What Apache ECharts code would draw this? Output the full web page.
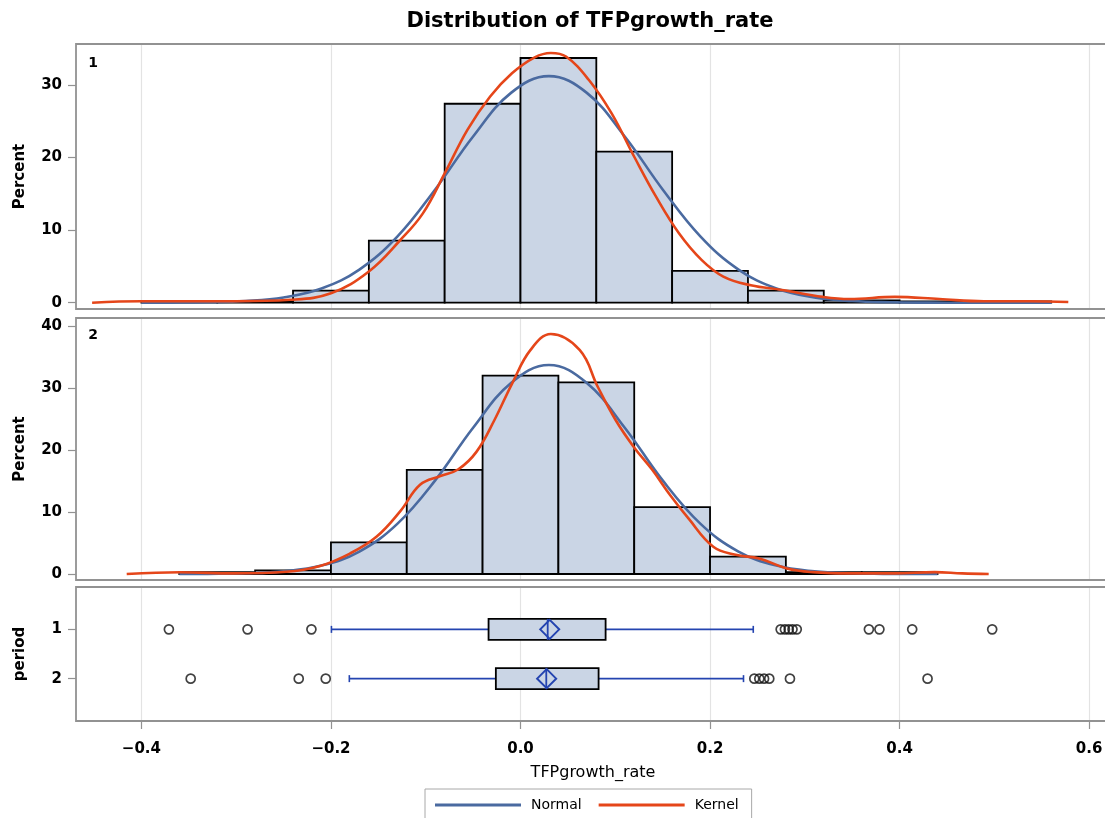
<!DOCTYPE html>
<html>
<head>
<meta charset="utf-8">
<script src="https://cdn.jsdelivr.net/npm/echarts@6/dist/echarts.min.js"></script>
<style>html,body{margin:0;padding:0;background:#fff}#c{width:1105px;height:818px}</style>
</head>
<body>
<div id="c"></div>
<script>
// ---------- data ----------
const xTickValues = [-0.4, -0.2, 0.0, 0.2, 0.4, 0.6];
const xTickLabels = ['\u22120.4', '\u22120.2', '0.0', '0.2', '0.4', '0.6'];
const pctTicks1 = [0, 10, 20, 30];
const pctTicks2 = [0, 10, 20, 30, 40];
const periods = [1, 2];

// period 1 histogram (bin edges, percent)
const binEdges1 = [-0.40, -0.32, -0.24, -0.16, -0.08, 0.00, 0.08, 0.16, 0.24, 0.32, 0.40, 0.48, 0.56];
const pct1 = [0.17, 0.17, 1.65, 8.54, 27.4, 33.7, 20.8, 4.37, 1.65, 0.33, 0.17, 0.17];
// period 2 histogram
const binEdges2 = [-0.36, -0.28, -0.20, -0.12, -0.04, 0.04, 0.12, 0.20, 0.28, 0.36, 0.44];
const pct2 = [0.3, 0.6, 5.1, 16.8, 32.0, 30.9, 10.8, 2.8, 0.3, 0.3];

// fitted curves
const normal1X = [-0.40, -0.37, -0.33, -0.29, -0.25, -0.21, -0.17, -0.13, -0.09, -0.05, -0.01, 0.03, 0.07, 0.11, 0.15, 0.19, 0.23, 0.27, 0.31, 0.35, 0.39, 0.43, 0.47, 0.51, 0.56];
const normal1Y = [0.0, 0.01, 0.06, 0.23, 0.72, 1.96, 4.56, 9.1, 15.6, 22.9, 28.9, 31.2, 28.9, 22.9, 15.6, 9.1, 4.56, 1.96, 0.72, 0.23, 0.06, 0.01, 0.0, 0.0, 0.0];
const kernel1X = [-0.452, -0.40, -0.30, -0.243, -0.20, -0.16, -0.127, -0.103, -0.080, -0.056, -0.032, -0.009, 0.015, 0.032, 0.048, 0.072, 0.096, 0.120, 0.143, 0.167, 0.191, 0.214, 0.243, 0.276, 0.319, 0.347, 0.395, 0.442, 0.489, 0.537, 0.578];
const kernel1Y = [0.0, 0.2, 0.2, 0.4, 1.3, 4.3, 8.6, 12.3, 17.8, 23.8, 28.4, 31.6, 33.8, 34.4, 33.9, 30.7, 26.1, 20.1, 14.6, 9.6, 5.9, 3.6, 2.4, 1.75, 0.8, 0.5, 0.8, 0.5, 0.2, 0.2, 0.1];
const normal2X = [-0.36, -0.33, -0.29, -0.25, -0.21, -0.17, -0.13, -0.09, -0.05, -0.01, 0.03, 0.07, 0.11, 0.15, 0.19, 0.23, 0.27, 0.31, 0.35, 0.39, 0.44];
const normal2Y = [0.0, 0.02, 0.11, 0.43, 1.36, 3.62, 8.09, 15.1, 23.6, 30.8, 33.7, 30.8, 23.6, 15.1, 8.09, 3.62, 1.36, 0.43, 0.11, 0.02, 0.0];
const kernel2X = [-0.4155, -0.359, -0.303, -0.247, -0.2115, -0.18, -0.152, -0.127, -0.106, -0.0845, -0.0655, -0.0465, -0.0276, -0.0086, 0.0104, 0.032, 0.0626, 0.0815, 0.1005, 0.1195, 0.139, 0.158, 0.177, 0.2034, 0.227, 0.252, 0.281, 0.309, 0.347, 0.395, 0.437, 0.466, 0.494];
const kernel2Y = [0.0, 0.27, 0.1, 0.35, 1.3, 3.3, 6.0, 10.1, 14.4, 15.8, 16.9, 19.7, 24.8, 30.8, 36.1, 38.7, 36.1, 30.2, 24.8, 20.5, 16.8, 12.7, 9.0, 4.4, 3.1, 2.5, 0.9, 0.3, 0.1, 0.1, 0.3, 0.1, 0.0];

// box plot summaries: [low whisker, Q1, median, Q3, high whisker, mean]
const box1 = [-0.1995, -0.0337, 0.0287, 0.0898, 0.2456, 0.0308];
const box2 = [-0.1806, -0.0260, 0.0272, 0.0824, 0.2353, 0.0276];
const outliers1 = [-0.371, -0.288, -0.2206, 0.2745, 0.279, 0.283, 0.287, 0.2915, 0.3676, 0.3787, 0.4133, 0.4977];
const outliers2 = [-0.348, -0.234, -0.2055, 0.2467, 0.252, 0.257, 0.2625, 0.2843, 0.4295];

// ---------- styling ----------
const FONT = 'DejaVu Sans';
const FILL = '#CAD5E5';
const BLUE = '#4A6AA0';
const RED = '#E5461A';
const WHISK = '#2444B0';
const FRAME = '#929292';
const GRIDC = '#E3E3E3';

function histData(edges, pct) {
  return pct.map((p, i) => [edges[i], edges[i + 1], p]);
}
function pairs(xs, ys) { return xs.map((x, i) => [x, ys[i]]); }

function renderHist(params, api) {
  const p0 = api.coord([api.value(0), api.value(2)]);
  const p1 = api.coord([api.value(1), 0]);
  return {
    type: 'rect',
    shape: { x: p0[0], y: p0[1], width: p1[0] - p0[0], height: p1[1] - p0[1] },
    style: { fill: FILL, stroke: '#000', lineWidth: 1.8 }
  };
}

function renderBox(params, api) {
  const cat = api.value(0);
  const lo = api.coord([api.value(1), cat]);
  const q1 = api.coord([api.value(2), cat]);
  const md = api.coord([api.value(3), cat]);
  const q3 = api.coord([api.value(4), cat]);
  const hi = api.coord([api.value(5), cat]);
  const mn = api.coord([api.value(6), cat]);
  const cy = lo[1];
  const h = 10.5, cap = 3.5, d = 9.5;
  return {
    type: 'group',
    children: [
      { type: 'line', shape: { x1: lo[0], y1: cy, x2: q1[0], y2: cy }, style: { stroke: WHISK, lineWidth: 1.6 } },
      { type: 'line', shape: { x1: q3[0], y1: cy, x2: hi[0], y2: cy }, style: { stroke: WHISK, lineWidth: 1.6 } },
      { type: 'line', shape: { x1: lo[0], y1: cy - cap, x2: lo[0], y2: cy + cap }, style: { stroke: WHISK, lineWidth: 1.6 } },
      { type: 'line', shape: { x1: hi[0], y1: cy - cap, x2: hi[0], y2: cy + cap }, style: { stroke: WHISK, lineWidth: 1.6 } },
      { type: 'rect', shape: { x: q1[0], y: cy - h, width: q3[0] - q1[0], height: 2 * h }, style: { fill: FILL, stroke: '#000', lineWidth: 1.8 } },
      { type: 'line', shape: { x1: md[0], y1: cy - h, x2: md[0], y2: cy + h }, style: { stroke: WHISK, lineWidth: 1.8 } },
      { type: 'polygon', shape: { points: [[mn[0] - d, cy], [mn[0], cy - d], [mn[0] + d, cy], [mn[0], cy + d]] }, style: { fill: 'none', stroke: WHISK, lineWidth: 2 } }
    ]
  };
}

const X_MIN = -0.469, X_MAX = 0.622;
const tickLabelFmt = v => {
  const i = xTickValues.findIndex(t => Math.abs(t - v) < 1e-9);
  return i >= 0 ? xTickLabels[i] : '';
};

function xAxisFor(gi, showLabels) {
  const ax = {
    type: 'value', gridIndex: gi, min: X_MIN, max: X_MAX,
    axisLine: { show: false, onZero: false },
    axisTick: { show: showLabels, customValues: xTickValues, length: 8, lineStyle: { color: FRAME, width: 1.2 } },
    axisLabel: { show: showLabels, customValues: xTickValues, formatter: tickLabelFmt, color: '#000', fontFamily: FONT, fontSize: 15, fontWeight: 'bold', margin: 21 },
    splitLine: { show: true, lineStyle: { color: GRIDC, width: 1.2 } }
  };
  if (showLabels) {
    ax.name = 'TFPgrowth_rate';
    ax.nameLocation = 'middle';
    ax.nameGap = 44;
    ax.nameTextStyle = { color: '#000', fontFamily: FONT, fontSize: 16 };
  }
  return ax;
}
function yAxisPct(gi, min, max, ticks) {
  return {
    type: 'value', gridIndex: gi, min: min, max: max,
    axisLine: { show: false, onZero: false },
    axisTick: { show: true, customValues: ticks, length: 8, lineStyle: { color: FRAME, width: 1.2 } },
    axisLabel: { customValues: ticks, color: '#000', fontFamily: FONT, fontSize: 15, fontWeight: 'bold', margin: 14 },
    splitLine: { show: false },
    name: 'Percent', nameLocation: 'middle', nameRotate: 90, nameGap: 48,
    nameTextStyle: { color: '#000', fontFamily: FONT, fontSize: 15, fontWeight: 'bold' }
  };
}

const gridBase = { left: 76, width: 1034, show: false, outerBoundsMode: 'none', containLabel: false };

function frame(y, h) {
  return { type: 'rect', silent: true, z: 50, shape: { x: 76, y: y, width: 1060, height: h }, style: { fill: 'none', stroke: FRAME, lineWidth: 1.8 } };
}

const option = {
  animation: false,
  backgroundColor: '#fff',
  textStyle: { fontFamily: FONT },
  graphic: [
    frame(44, 265), frame(318, 262), frame(587, 134),
    { type: 'text', x: 590, y: 22, style: { text: 'Distribution of TFPgrowth_rate', fill: '#000', font: 'bold 21px "DejaVu Sans"', textAlign: 'center', textVerticalAlign: 'middle' } },
    { type: 'text', x: 93, y: 63, style: { text: '1', fill: '#000', font: 'bold 14px "DejaVu Sans"', textAlign: 'center', textVerticalAlign: 'middle' } },
    { type: 'text', x: 93, y: 335, style: { text: '2', fill: '#000', font: 'bold 14px "DejaVu Sans"', textAlign: 'center', textVerticalAlign: 'middle' } }
  ],
  legend: {
    data: [{ name: 'Normal', icon: 'rect' }, { name: 'Kernel', icon: 'rect' }],
    left: 425, top: 789,
    itemWidth: 86, itemHeight: 3, itemGap: 17,
    padding: [9, 13, 9, 10],
    borderColor: '#A8A8A8', borderWidth: 1,
    textStyle: { color: '#000', fontFamily: FONT, fontSize: 14, padding: [0, 0, 0, 5] },
    selectedMode: false
  },
  grid: [
    Object.assign({ top: 44, height: 265 }, gridBase),
    Object.assign({ top: 318, height: 262 }, gridBase),
    Object.assign({ top: 587, height: 134 }, gridBase)
  ],
  xAxis: [xAxisFor(0, false), xAxisFor(1, false), xAxisFor(2, true)],
  yAxis: [
    yAxisPct(0, -0.868, 35.63, pctTicks1),
    yAxisPct(1, -0.968, 41.29, pctTicks2),
    {
      type: 'value', gridIndex: 2, min: 0.14, max: 2.86, inverse: true,
      axisLine: { show: false, onZero: false },
      axisTick: { show: true, customValues: periods, length: 8, lineStyle: { color: FRAME, width: 1.2 } },
      axisLabel: { customValues: periods, color: '#000', fontFamily: FONT, fontSize: 15, fontWeight: 'bold', margin: 14 },
      splitLine: { show: false },
      name: 'period', nameLocation: 'middle', nameRotate: 90, nameGap: 48,
      nameTextStyle: { color: '#000', fontFamily: FONT, fontSize: 15, fontWeight: 'bold' }
    }
  ],
  series: [
    { name: 'hist1', type: 'custom', xAxisIndex: 0, yAxisIndex: 0, renderItem: renderHist, encode: { x: [0, 1], y: 2 }, data: histData(binEdges1, pct1), z: 2 },
    { name: 'Normal', type: 'line', xAxisIndex: 0, yAxisIndex: 0, data: pairs(normal1X, normal1Y), smooth: 0.4, symbol: 'none', color: BLUE, lineStyle: { color: BLUE, width: 2.6 }, z: 3 },
    { name: 'Kernel', type: 'line', xAxisIndex: 0, yAxisIndex: 0, data: pairs(kernel1X, kernel1Y), smooth: 0.4, symbol: 'none', color: RED, lineStyle: { color: RED, width: 2.6 }, z: 4 },
    { name: 'hist2', type: 'custom', xAxisIndex: 1, yAxisIndex: 1, renderItem: renderHist, encode: { x: [0, 1], y: 2 }, data: histData(binEdges2, pct2), z: 2 },
    { name: 'Normal', type: 'line', xAxisIndex: 1, yAxisIndex: 1, data: pairs(normal2X, normal2Y), smooth: 0.4, symbol: 'none', color: BLUE, lineStyle: { color: BLUE, width: 2.6 }, z: 3 },
    { name: 'Kernel', type: 'line', xAxisIndex: 1, yAxisIndex: 1, data: pairs(kernel2X, kernel2Y), smooth: 0.4, symbol: 'none', color: RED, lineStyle: { color: RED, width: 2.6 }, z: 4 },
    { name: 'box', type: 'custom', xAxisIndex: 2, yAxisIndex: 2, renderItem: renderBox, encode: { x: [1, 2, 3, 4, 5, 6], y: 0 },
      data: [[periods[0]].concat(box1), [periods[1]].concat(box2)], z: 2 },
    { name: 'outliers', type: 'scatter', xAxisIndex: 2, yAxisIndex: 2, symbol: 'circle', symbolSize: 9,
      itemStyle: { color: 'rgba(0,0,0,0)', borderColor: '#111', borderWidth: 1.7 },
      data: outliers1.map(v => [v, periods[0]]).concat(outliers2.map(v => [v, periods[1]])), z: 3 }
  ]
};

const chart = echarts.init(document.getElementById('c'), null, { renderer: 'canvas' });
chart.setOption(option);
</script>
</body>
</html>
